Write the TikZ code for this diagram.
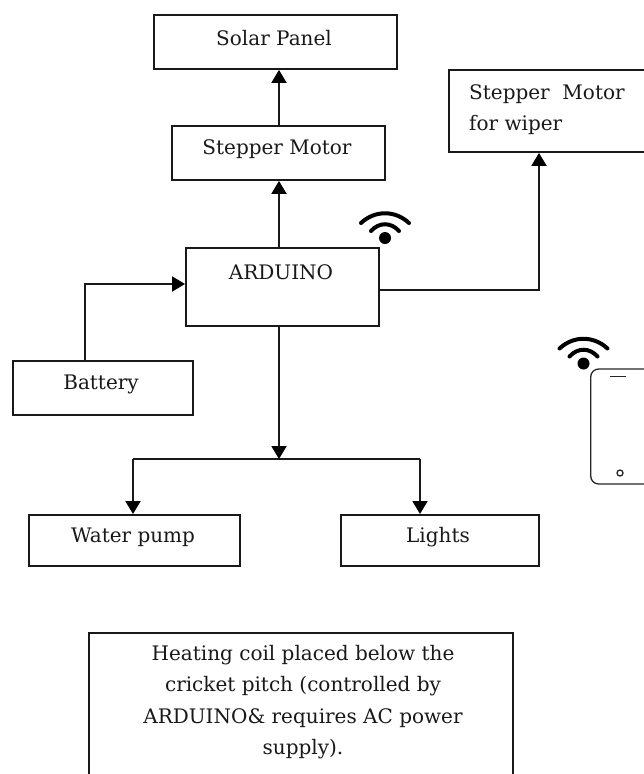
\documentclass[tikz,border=0pt]{standalone}
\usepackage{fontspec}
\setmainfont{DejaVu Serif}
\usetikzlibrary{arrows.meta,calc}
\tikzset{
 blockbox/.style={draw=black!90,line width=1.9pt,anchor=north west,inner sep=0pt,fill=white},
 lbl/.style={font=\fontsize{20}{31.5}\selectfont,text=black!90,inner sep=0pt,align=center},
 conn/.style={draw=black!90,line width=1.9pt},
 arr/.style={conn,-{Triangle[length=13pt,width=15pt,color=black]}},
 wave/.style={line width=4pt,line cap=round,black},
 phone/.style={draw=black!85,line width=1.3pt}
}
\newcommand{\wifi}[2]{%
 \fill[black] (#1,#2) circle (6);
 \draw[wave] (#1-14,#2-7) .. controls (#1-6,#2-16) and (#1+6,#2-16) .. (#1+14,#2-7);
 \draw[wave] (#1-24,#2-15) .. controls (#1-10,#2-28) and (#1+10,#2-28) .. (#1+24,#2-15);
}
\begin{document}
\begin{tikzpicture}[x=1pt,y=-1pt]
\useasboundingbox (0,0) rectangle (643,774);
\fill[white] (0,0) rectangle (643,774);
\node[blockbox,minimum width=243pt,minimum height=54pt] (solar) at (153,14) {};
\node[blockbox,minimum width=213pt,minimum height=54pt] (step) at (171,125) {};
\node[blockbox,minimum width=200pt,minimum height=82pt] (wiper) at (448,69) {};
\node[blockbox,minimum width=193pt,minimum height=78pt] (ard) at (185,247) {};
\node[blockbox,minimum width=180pt,minimum height=54pt] (bat) at (12,360) {};
\node[blockbox,minimum width=211pt,minimum height=51pt] (pump) at (28,514) {};
\node[blockbox,minimum width=198pt,minimum height=51pt] (lights) at (340,514) {};
\node[blockbox,minimum width=424pt,minimum height=150pt] (heat) at (88,632) {};
\node[lbl] (t1) at (274,38) {Solar Panel};
\node[lbl] (t2) at (277,149) {Stepper Motor};
\node[lbl,align=left,anchor=north west] (t3) at (469,84) {Stepper\ \ Motor\\for wiper};
\node[lbl] (t4) at (281,272) {ARDUINO};
\node[lbl] (t5) at (101,384) {Battery};
\node[lbl] (t6) at (133,537) {Water pump};
\node[lbl] (t7) at (438,537) {Lights};
\node[lbl,anchor=north] (t8) at (303,645) {Heating coil placed below the\\cricket pitch (controlled by\\ARDUINO\& requires AC power\\supply).};
\coordinate (j) at (279,459);
\coordinate (jl) at (133,459);
\coordinate (jr) at (420,459);
\draw[arr] (step.north -| 279,0) -- (solar.south -| 279,0);
\draw[arr] (ard.north -| 279,0) -- (step.south -| 279,0);
\draw[arr] (ard.east |- 0,290) -| (wiper.south -| 539,0);
\draw[arr] (bat.north -| 85,0) |- (ard.west |- 0,284);
\draw[conn] (jl) -- (jr);
\draw[arr] (ard.south -| 279,0) -- (j);
\draw[arr] (jl) -- (pump.north -| 133,0);
\draw[arr] (jr) -- (lights.north -| 420,0);
\wifi{385}{238}
\wifi{583.5}{363.5}
\draw[phone,rounded corners=8pt] (650,369) -- (590.7,369) -- (590.7,484) -- (650,484);
\coordinate (ph1) at (610,376.7);
\coordinate (ph2) at (626,376.7);
\draw[phone] (ph1) -- (ph2);
\draw[phone] (620,473) circle (3);
\end{tikzpicture}
\end{document}
